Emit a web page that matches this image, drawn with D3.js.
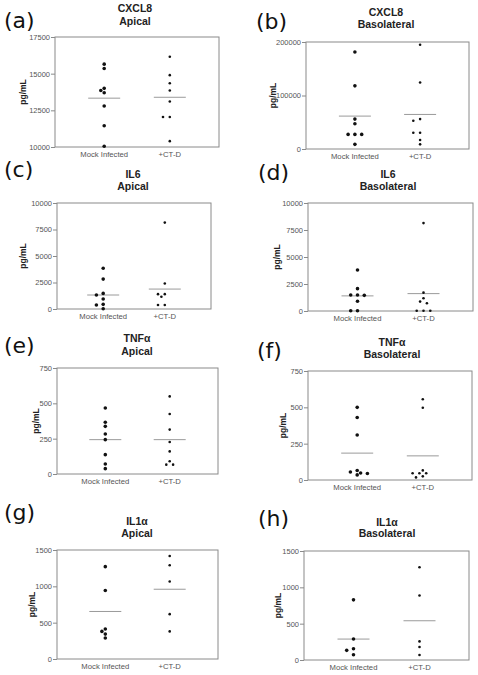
<!DOCTYPE html>
<html>
<head>
<meta charset="utf-8">
<script src="https://cdn.jsdelivr.net/npm/d3@7"></script>
<style>
  html, body { margin: 0; padding: 0; background: #fff; }
  svg { display: block; }
</style>
</head>
<body>
<div id="chart"></div>
<script>
// ---------------- DATA ----------------
const categories = ["Mock Infected", "+CT-D"];
const panelLetters = ["(a)", "(b)", "(c)", "(d)", "(e)", "(f)", "(g)", "(h)"];
const cytokines = ["CXCL8", "CXCL8", "IL6", "IL6", "TNFα", "TNFα", "IL1α", "IL1α"];
const sides = ["Apical", "Basolateral", "Apical", "Basolateral", "Apical", "Basolateral", "Apical", "Basolateral"];
const yLabel = "pg/mL";

const ticksA = [10000, 12500, 15000, 17500];
const ticksB = [0, 100000, 200000];
const ticksIL6 = [0, 2500, 5000, 7500, 10000];
const ticksTNF = [0, 250, 500, 750];
const ticksIL1 = [0, 500, 1000, 1500];

const mockA = [15650, 15350, 14000, 13850, 13700, 12800, 11450, 10050];
const ctdA  = [16150, 14900, 14350, 13850, 13100, 12050, 12050, 10400];
const meanA = [13330, 13390];

const mockB = [181300, 118000, 55900, 47200, 27300, 27300, 27300, 8700];
const ctdB  = [195000, 124200, 55900, 52800, 30400, 30400, 16800, 8700];
const meanB = [61500, 64600];

const mockC = [3850, 2820, 1470, 1320, 940, 440, 380, 30];
const ctdC  = [8150, 2410, 1400, 1150, 1400, 380, 380];
const meanC = [1320, 1880];

const mockD = [3800, 2070, 1480, 1450, 1480, 900, 30, 30];
const ctdD  = [8140, 1700, 1180, 870, 715, 30, 30, 30];
const meanD = [1400, 1610];

const mockE = [467, 366, 337, 283, 243, 137, 71, 38];
const ctdE  = [549, 425, 314, 226, 160, 90, 66, 66];
const meanE = [243, 243];

const mockF = [500, 430, 310, 55, 65, 35, 48, 45];
const ctdF  = [556, 497, 66, 46, 46, 46, 25, 18];
const meanF = [185, 166];

const mockG = [1271, 942, 412, 380, 343, 288];
const ctdG  = [1418, 1290, 1066, 617, 380];
const meanG = [654, 960];

const mockH = [828, 288, 155, 133, 73];
const ctdH  = [1276, 887, 256, 178, 69];
const meanH = [288, 540];

const panelTicks = [ticksA, ticksB, ticksIL6, ticksIL6, ticksTNF, ticksTNF, ticksIL1, ticksIL1];
const panelMock = [mockA, mockB, mockC, mockD, mockE, mockF, mockG, mockH];
const panelCtd  = [ctdA, ctdB, ctdC, ctdD, ctdE, ctdF, ctdG, ctdH];
const panelMean = [meanA, meanB, meanC, meanD, meanE, meanF, meanG, meanH];

// ---------------- LAYOUT ----------------
const layout = [
  { box: [55, 37, 219, 147],  tx: 135, ty: [12, 25],   lx: 4,   ly: 28,  yl: 23 },
  { box: [306, 42, 469, 149], tx: 386, ty: [16, 28],   lx: 256, ly: 29,  yl: 273 },
  { box: [57, 203, 211, 309], tx: 133, ty: [178, 190], lx: 4,   ly: 177, yl: 23 },
  { box: [308, 203, 473, 311],tx: 388, ty: [178, 190], lx: 258, ly: 180, yl: 277 },
  { box: [57, 368, 218, 474], tx: 137, ty: [342, 355], lx: 4,   ly: 353, yl: 36 },
  { box: [308, 371, 472, 480],tx: 392, ty: [346, 358], lx: 257, ly: 358, yl: 283 },
  { box: [57, 550, 218, 659], tx: 137, ty: [525, 537], lx: 4,   ly: 520, yl: 32 },
  { box: [304, 551, 469, 660],tx: 387, ty: [526, 537], lx: 258, ly: 526, yl: 278 }
];

const W = 478, H = 675;
const svg = d3.select("#chart").append("svg")
  .attr("width", W).attr("height", H)
  .style("font-family", "'Liberation Sans', Arial, sans-serif");
svg.append("rect").attr("width", W).attr("height", H).attr("fill", "#fff");

function swarm(vals, y, radiusSep) {
  const placed = [];
  const order = vals.map((v, i) => ({ v, i, py: y(v) })).sort((a, b) => a.py - b.py);
  const out = new Array(vals.length);
  const cands = [0, -3.4, 3.4, -6.8, 6.8, -10.2, 10.2];
  order.forEach(p => {
    for (const dx of cands) {
      const ok = placed.every(q => Math.hypot(q.dx - dx, q.py - p.py) >= radiusSep);
      if (ok) { placed.push({ dx, py: p.py }); out[p.i] = { v: p.v, dx }; break; }
    }
  });
  return out;
}

layout.forEach((L, k) => {
  const [x0, y0, x1, y1] = L.box;
  const ticks = panelTicks[k];
  const g = svg.append("g");

  const y = d3.scaleLinear().domain([ticks[0], ticks[ticks.length - 1]]).range([y1, y0]);
  const x = d3.scalePoint().domain(categories).range([x0, x1]).padding(0.75);

  // box
  g.append("rect").attr("x", x0).attr("y", y0).attr("width", x1 - x0).attr("height", y1 - y0)
    .attr("fill", "none").attr("stroke", "#8a8a8a").attr("stroke-width", 1);

  // y axis
  const ya = g.append("g").attr("transform", `translate(${x0},0)`)
    .call(d3.axisLeft(y).tickValues(ticks).tickSize(4).tickPadding(1).tickFormat(d3.format("d")));
  ya.select(".domain").remove();
  ya.selectAll("line").attr("stroke", "#8a8a8a");
  ya.selectAll("text").attr("fill", "#555").style("font-size", "7.5px")
    .style("font-family", "'Liberation Sans', Arial, sans-serif");

  // x labels
  g.selectAll(".xl").data(categories).enter().append("text")
    .attr("x", d => x(d)).attr("y", y1 + 10)
    .attr("text-anchor", "middle").attr("fill", "#555").style("font-size", "7.7px")
    .text(d => d);

  // y label
  g.append("text")
    .attr("transform", `translate(${L.yl},${(y0 + y1) / 2}) rotate(-90)`)
    .attr("text-anchor", "middle").attr("dy", "0.35em")
    .style("font-size", "8.5px").style("font-weight", "bold").attr("fill", "#222")
    .text(yLabel);

  // titles
  g.append("text").attr("x", L.tx).attr("y", L.ty[0]).attr("text-anchor", "middle")
    .style("font-size", "10.5px").style("font-weight", "bold").attr("fill", "#222").text(cytokines[k]);
  g.append("text").attr("x", L.tx).attr("y", L.ty[1]).attr("text-anchor", "middle")
    .style("font-size", "10.5px").style("font-weight", "bold").attr("fill", "#222").text(sides[k]);

  // panel letter
  g.append("text").attr("x", L.lx).attr("y", L.ly)
    .style("font-family", "'DejaVu Sans', sans-serif").style("font-size", "22px").attr("fill", "#111")
    .text(panelLetters[k]);

  // mean lines
  const hw = 16;
  g.selectAll(".mean").data(panelMean[k]).enter().append("line")
    .attr("x1", (d, i) => x(categories[i]) - hw).attr("x2", (d, i) => x(categories[i]) + hw)
    .attr("y1", d => y(d)).attr("y2", d => y(d))
    .attr("stroke", "#9a9a9a").attr("stroke-width", 1);

  // points
  const series = [panelMock[k], panelCtd[k]];
  const radii = [1.8, 1.3];
  series.forEach((vals, si) => {
    const pts = swarm(vals, y, 3.8);
    g.selectAll(".pt" + si).data(pts).enter().append("circle")
      .attr("cx", d => x(categories[si]) + d.dx)
      .attr("cy", d => y(d.v))
      .attr("r", radii[si])
      .attr("fill", "#111");
  });
});
</script>
</body>
</html>
